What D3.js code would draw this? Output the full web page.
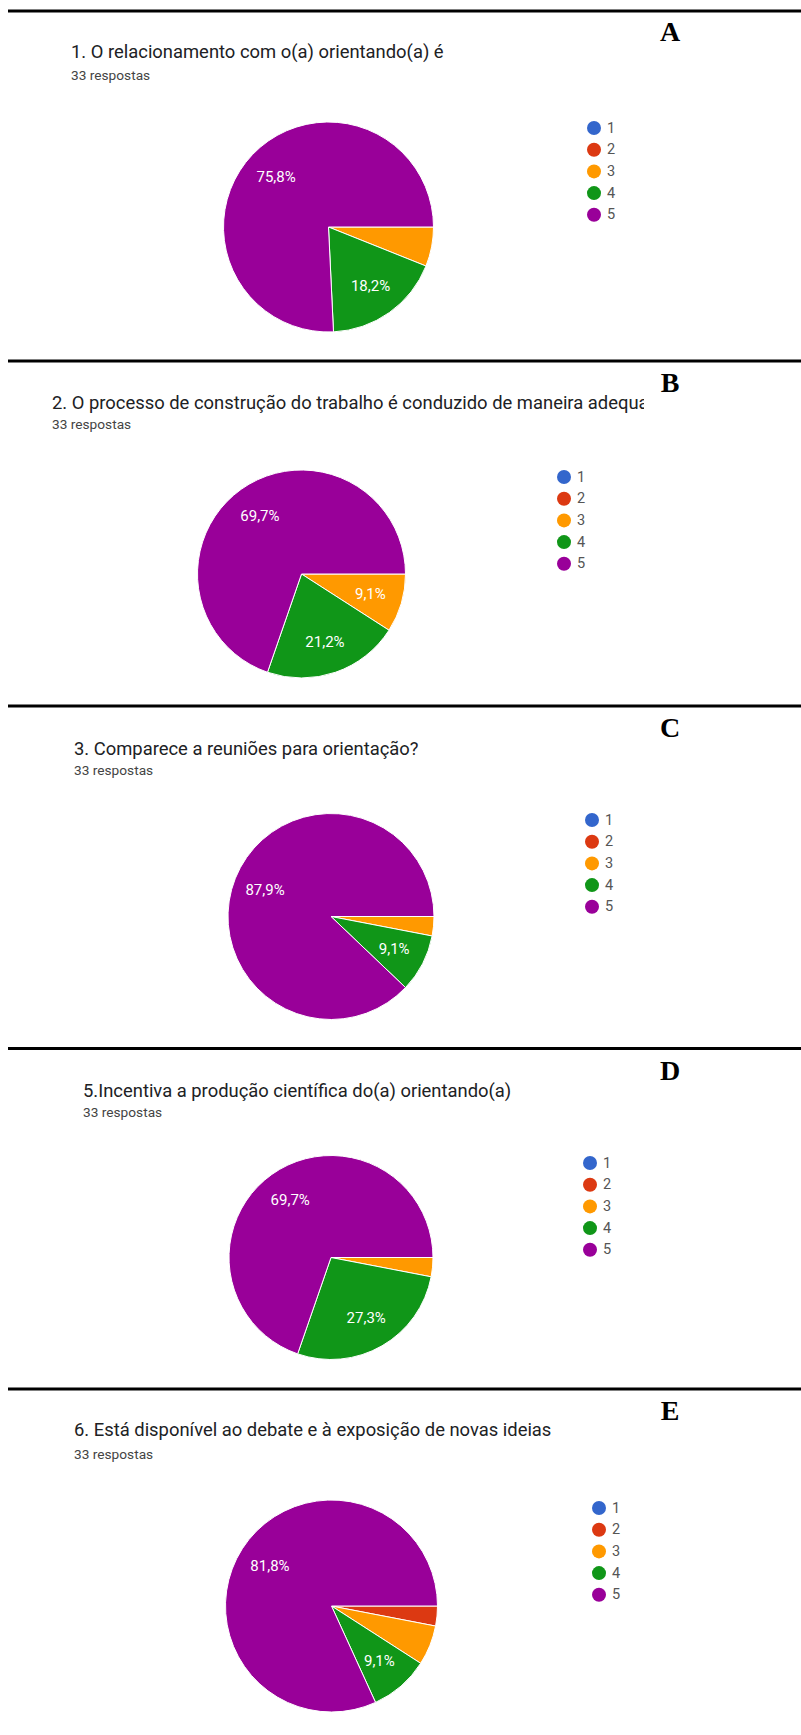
<!DOCTYPE html>
<html>
<head>
<meta charset="utf-8">
<script src="https://cdn.jsdelivr.net/npm/d3@7"></script>
<style>
  html, body { margin: 0; padding: 0; background: #ffffff; }
  svg { display: block; }
</style>
</head>
<body>
<div id="chart"></div>
<script>
// ---- Survey data (one pie per question) ----
const categories = ["1", "2", "3", "4", "5"];
const panelLetters = ["A", "B", "C", "D", "E"];
const questionTitles = [
  "1. O relacionamento com o(a) orientando(a) é",
  "2. O processo de construção do trabalho é conduzido de maneira adequada?",
  "3. Comparece a reuniões para orientação?",
  "5.Incentiva a produção científica do(a) orientando(a)",
  "6. Está disponível ao debate e à exposição de novas ideias"
];
const responseTotals = [33, 33, 33, 33, 33];
const countsA = [0, 0, 2, 6, 25];
const countsB = [0, 0, 3, 7, 23];
const countsC = [0, 0, 1, 3, 29];
const countsD = [0, 0, 1, 9, 23];
const countsE = [0, 1, 2, 3, 27];
const seriesCounts = [countsA, countsB, countsC, countsD, countsE];

// ---- Appearance ----
const sliceColors = ["#3366cc", "#dc3912", "#ff9900", "#109618", "#990099"];
const labelThreshold = 0.08;   // slices smaller than this carry no percentage text

// Panel geometry: separator line, heading, pie centre/radius and legend origin
const panelLayout = [
  { line: 11,   letterY: 41,   titleX: 71, titleY: 58,   subY: 80,   cx: 328.5, cy: 227,  r: 105, legX: 594, legY: 128,  clip: null },
  { line: 361,  letterY: 392,  titleX: 52, titleY: 409,  subY: 429,  cx: 301.5, cy: 574,  r: 104, legX: 564, legY: 477,  clip: 644 },
  { line: 706,  letterY: 737,  titleX: 74, titleY: 755,  subY: 775,  cx: 331,   cy: 916.5, r: 103, legX: 592, legY: 820, clip: null },
  { line: 1048.5, letterY: 1080, titleX: 83, titleY: 1097, subY: 1117, cx: 331, cy: 1257.5, r: 102, legX: 590, legY: 1163, clip: null },
  { line: 1389, letterY: 1420, titleX: 74, titleY: 1436, subY: 1459, cx: 331.5, cy: 1606, r: 106, legX: 599, legY: 1508, clip: null }
];
const legendStep = 21.7;

const width = 801, height = 1735;
const svg = d3.select("#chart").append("svg")
  .attr("width", width)
  .attr("height", height)
  .attr("viewBox", `0 0 ${width} ${height}`);

svg.append("rect").attr("width", width).attr("height", height).attr("fill", "#ffffff");

const color = d3.scaleOrdinal().domain(categories).range(sliceColors);
const pie = d3.pie()
  .sort(null)
  .value(d => d.count)
  .startAngle(Math.PI / 2)
  .endAngle(Math.PI / 2 + 2 * Math.PI);
const pctFormat = v => d3.format(".1f")(v * 100).replace(".", ",") + "%";

const defs = svg.append("defs");

panelLayout.forEach((p, i) => {
  const total = responseTotals[i];
  const data = categories.map((c, k) => ({ cat: c, count: seriesCounts[i][k] }));
  const g = svg.append("g").attr("class", "panel panel-" + panelLetters[i]);

  // separator rule above the panel
  g.append("line")
    .attr("x1", 8).attr("x2", width)
    .attr("y1", p.line).attr("y2", p.line)
    .attr("stroke", "#000").attr("stroke-width", 2.8);

  // panel letter
  g.append("text")
    .attr("x", 670).attr("y", p.letterY)
    .attr("text-anchor", "middle")
    .attr("font-family", "'Liberation Serif', 'Times New Roman', serif")
    .attr("font-weight", "bold")
    .attr("font-size", 28)
    .attr("fill", "#000")
    .text(panelLetters[i]);

  // question heading (optionally cut off on the right)
  const titleG = g.append("g");
  const title = titleG.append("text")
    .attr("x", p.titleX).attr("y", p.titleY)
    .attr("font-family", "Roboto, 'Noto Sans', sans-serif")
    .attr("font-size", 18.4)
    .attr("fill", "#202124")
    .text(questionTitles[i]);
  if (p.clip) {
    const id = "clip-title-" + i;
    defs.append("clipPath").attr("id", id)
      .append("rect").attr("x", 0).attr("y", p.titleY - 30)
      .attr("width", p.clip).attr("height", 40);
    titleG.attr("clip-path", `url(#${id})`);
    // drop the characters that start beyond the cut line
    const node = title.node();
    const n = node.getNumberOfChars();
    for (let k = 0; k < n; k++) {
      if (node.getStartPositionOfChar(k).x >= p.clip) {
        title.text(questionTitles[i].slice(0, k));
        break;
      }
    }
  }

  g.append("text")
    .attr("x", p.titleX).attr("y", p.subY)
    .attr("font-family", "Roboto, 'Noto Sans', sans-serif")
    .attr("font-size", 13.7)
    .attr("fill", "#444")
    .text(`${total} respostas`);

  // pie
  const arc = d3.arc().innerRadius(0).outerRadius(p.r);
  const labelArc = d3.arc().innerRadius(p.r * 0.69).outerRadius(p.r * 0.69);
  const arcs = pie(data).filter(d => d.data.count > 0);
  const pg = g.append("g").attr("transform", `translate(${p.cx},${p.cy})`);

  pg.selectAll("path.slice")
    .data(arcs)
    .join("path")
    .attr("class", "slice")
    .attr("d", arc)
    .attr("fill", d => color(d.data.cat))
    .attr("stroke", "#ffffff")
    .attr("stroke-width", 1)
    .attr("stroke-linejoin", "round");

  pg.selectAll("text.pct")
    .data(arcs.filter(d => d.data.count / total >= labelThreshold))
    .join("text")
    .attr("class", "pct")
    .attr("transform", d => `translate(${labelArc.centroid(d)})`)
    .attr("text-anchor", "middle")
    .attr("dominant-baseline", "central")
    .attr("font-family", "Roboto, 'Noto Sans', sans-serif")
    .attr("font-size", 15)
    .attr("fill", "#ffffff")
    .text(d => pctFormat(d.data.count / total));

  // legend
  const lg = g.append("g").attr("transform", `translate(${p.legX},${p.legY})`);
  const items = lg.selectAll("g.item")
    .data(categories)
    .join("g")
    .attr("class", "item")
    .attr("transform", (d, k) => `translate(0,${k * legendStep})`);
  items.append("circle")
    .attr("r", 7)
    .attr("fill", d => color(d));
  items.append("text")
    .attr("x", 13)
    .attr("dominant-baseline", "central")
    .attr("font-family", "Roboto, 'Noto Sans', sans-serif")
    .attr("font-size", 14.5)
    .attr("fill", "#555")
    .text(d => d);
});
</script>
</body>
</html>
